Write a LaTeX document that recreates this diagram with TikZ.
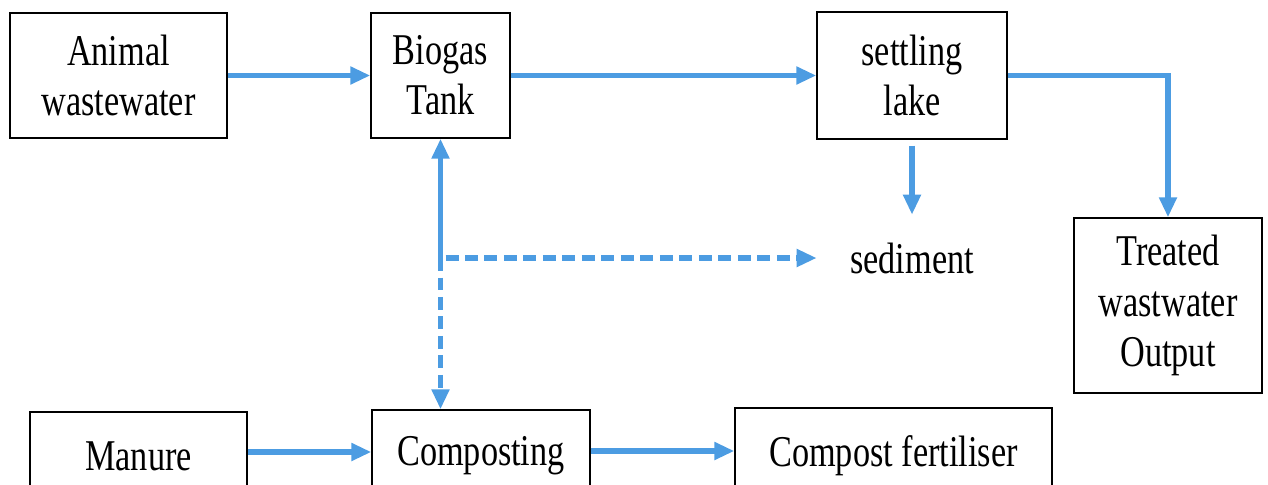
\documentclass[tikz,border=0pt]{standalone}
\usepackage{fontspec}
\setmainfont[FakeStretch=0.78]{Liberation Serif}
\usetikzlibrary{arrows.meta}
\definecolor{flowblue}{RGB}{76,156,226}

\begin{document}
\begin{tikzpicture}[x=0.02cm,y=-0.02cm,
	every node/.style={inner sep=0pt,align=center,font=\fontsize{25}{28.5}\selectfont},
	box/.style={draw=black,line width=0.8pt},
	flow/.style={draw=flowblue,line width=3.3pt,-{Triangle[length=0.4cm,width=0.34cm]}},
	dashflow/.style={flow,dash pattern=on 0.26cm off 0.13cm}]
	\useasboundingbox (0,0) rectangle (1268,484);
	\clip (0,0) rectangle (1268,484);
	% top row
	\node[box,minimum width=4.34cm,minimum height=2.5cm] (animal) at (118.5,75.5) {Animal\\wastewater};
	\node[box,minimum width=2.78cm,minimum height=2.5cm] (biogas) at (440.5,75.5) {Biogas\\Tank};
	\node[box,minimum width=3.8cm,minimum height=2.54cm] (settling) at (912,75.5) {settling\\lake};
	\node[box,minimum width=3.76cm,minimum height=3.5cm] (treated) at (1168,305.5) {Treated\\wastwater\\Output};
	\node[minimum width=3.8cm,minimum height=1.72cm] (sediment) at (912,258) {sediment};
	% bottom row
	\node[box,minimum width=4.34cm,minimum height=1.76cm] (manure) at (138.5,456) {Manure};
	\node[box,minimum width=4.36cm,minimum height=1.84cm] (composting) at (481,456) {Composting};
	\node[box,minimum width=6.34cm,minimum height=1.92cm] (fertiliser) at (893.5,456) {Compost fertiliser};
	\coordinate (junc) at (biogas.south |- sediment.west);

	\draw[flow] (animal) -- (biogas);
	\draw[flow] (biogas) -- (settling);
	\draw[flow] (settling.east) -| (treated.north);
	\draw[flow,shorten <=0.12cm] (settling.south) -- (sediment.north);
	\draw[flow] (junc) -- (biogas.south);
	\draw[dashflow] (junc) -- (junc |- composting.north);
	\draw[dashflow] ([xshift=0.1cm]junc) -- (sediment.west);
	\draw[flow] ([yshift=0.08cm]manure.east) -- ([yshift=0.08cm]composting.west);
	\draw[flow] ([yshift=0.1cm]composting.east) -- ([yshift=0.1cm]fertiliser.west);
\end{tikzpicture}
\end{document}
